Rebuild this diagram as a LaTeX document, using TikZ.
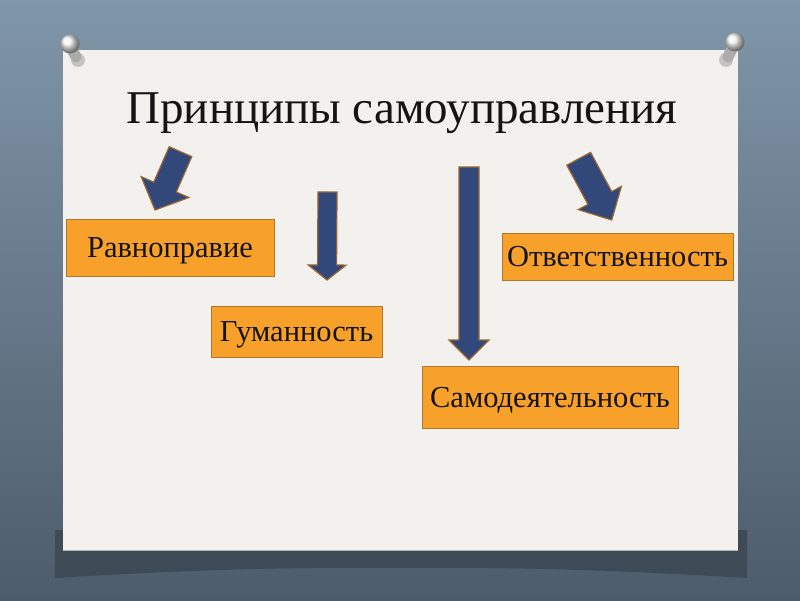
\documentclass[tikz,border=0pt]{standalone}
\usepackage{fontspec}
\setmainfont{Liberation Serif}
\usetikzlibrary{calc}
\definecolor{bgtop}{HTML}{8096A9}
\definecolor{bgbot}{HTML}{4D5C6B}
\definecolor{card}{HTML}{F2F1ED}
\definecolor{arrowfill}{HTML}{32487A}
\definecolor{arrowline}{HTML}{9A6630}
\definecolor{boxfill}{HTML}{F8A12A}
\definecolor{boxline}{HTML}{B0762E}
\definecolor{shadowc}{HTML}{3A4550}
\newcommand\mkblockarrow[6]{% name, tail, tip, w, W, L
  \coordinate (#1h) at ($(#3)!#6!(#2)$);
  \draw[blockarrow] ($(#2)!#4!90:(#3)$) -- ($(#1h)!#4!-90:(#2)$) -- ($(#1h)!#5!-90:(#2)$) -- (#3)
    -- ($(#1h)!#5!90:(#2)$) -- ($(#1h)!#4!90:(#2)$) -- ($(#2)!#4!-90:(#3)$) -- cycle;}
\begin{document}
\begin{tikzpicture}[x=1pt,y=-1pt,
  principle/.style={draw=boxline, line width=1pt, fill=boxfill, inner sep=0pt,
    font=\fontsize{30.5}{32}\selectfont, text=black!92, text height=20pt, text depth=0pt},
  blockarrow/.style={fill=arrowfill, draw=arrowline, line width=1.2pt, line join=miter},
  pinhead/.style={ball color=white!90!gray},
]
\useasboundingbox (0,0) rectangle (800,600);
\shade[top color=bgtop, bottom color=bgbot] (0,0) rectangle (800,600);
% card shadow
\fill[shadowc, opacity=0.8] (55,530) -- (747,530) -- (747,578)
  .. controls (600,569) and (500,567) .. (400,568)
  .. controls (300,567) and (200,569) .. (55,578) -- cycle;
% card
\fill[card] (63,50) rectangle (738,550);
\draw[black!30, line width=0.8pt] (63,550) -- (738,550);
% pins
\fill[black!45, opacity=.45] (78,60) circle (7);
\draw[line width=11pt, line cap=round, gray!65] (71,47) -- (76,57);
\shade[pinhead] (70,44) circle (9.5);
\fill[black!45, opacity=.45] (726,60) circle (7);
\draw[line width=11pt, line cap=round, gray!65] (734,45) -- (728,57);
\shade[pinhead] (735,42) circle (9.5);
% title
\node[font=\fontsize{47}{50}\selectfont, anchor=base, text=black!92] (title) at (402,123) {Принципы самоуправления};
% boxes
\node[principle, minimum width=208, minimum height=57] (ravn) at (170,247.5) {Равноправие};
\node[principle, minimum width=171, minimum height=51] (guman) at (296.5,331.5) {Гуманность};
\node[principle, minimum width=231, minimum height=47] (otv) at (617.5,256.5) {Ответственность};
\node[principle, minimum width=256, minimum height=62] (samod) at (550,397) {Самодеятельность};
% arrows
\coordinate (a1t) at (180.5,151.7); \coordinate (a1p) at (155,210);
\coordinate (a2t) at (327.5,192);   \coordinate (a2p) at (327,280);
\coordinate (a3t) at (469,167);     \coordinate (a3p) at (469,360);
\coordinate (a4t) at (578.7,158.8); \coordinate (a4p) at (611.7,220);
\mkblockarrow{a1}{a1t}{a1p}{12.3pt}{26pt}{25pt}
\mkblockarrow{a2}{a2t}{a2p}{9.5pt}{19pt}{15pt}
\mkblockarrow{a3}{a3t}{a3p}{10pt}{20pt}{20pt}
\mkblockarrow{a4}{a4t}{a4p}{13.5pt}{24.5pt}{25pt}
\end{tikzpicture}
\end{document}
